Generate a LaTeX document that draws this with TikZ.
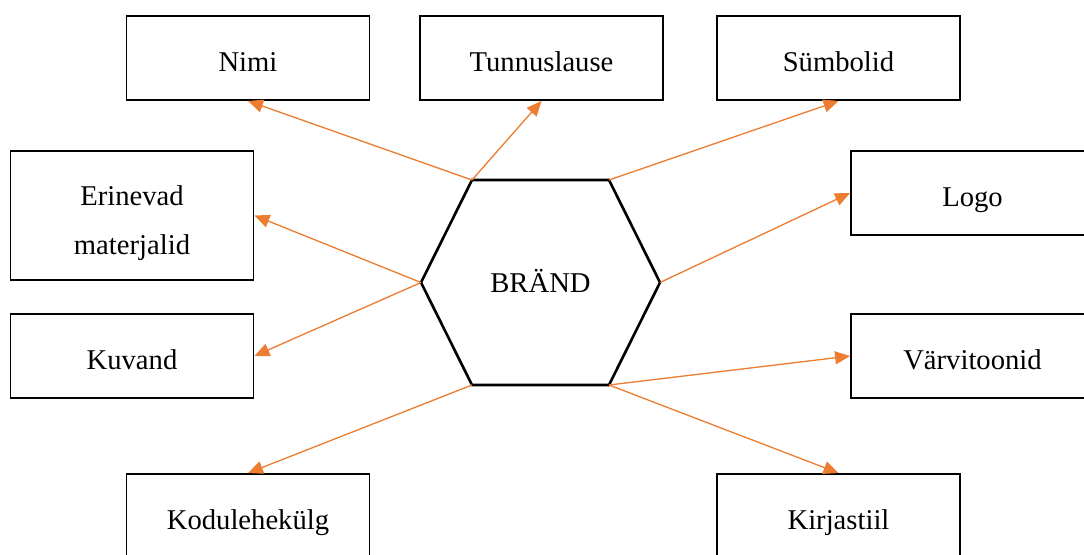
\documentclass[tikz,border=0pt]{standalone}
\usepackage{fontspec}
\setmainfont{Liberation Serif}
\usepackage{xcolor}
\usetikzlibrary{positioning}
\usetikzlibrary{arrows.meta}
\definecolor{brandorange}{RGB}{237,125,49}
\def\tekst{\fontsize{16.3pt}{27.9pt}\selectfont}
\tikzset{
kast/.style={draw, line width=1.1pt, minimum width=4.86cm, minimum height=1.68cm, align=center, inner sep=0pt, font=\tekst, text height=14.8pt, text depth=0pt},
kuusnurk/.style={draw, line width=1.5pt, line join=miter},
keskel/.style={inner sep=0pt, font=\tekst, text height=11.9pt, text depth=0pt},
nool/.style={draw=brandorange, line width=0.75pt, -{Triangle[length=0.3cm, width=0.26cm]}},
}
\begin{document}
\begin{tikzpicture}[x=0.02cm, y=-0.02cm]
	\clip (0,0) rectangle (1084,554);
	%
	\coordinate (h1) at (472,180);
	\coordinate (h2) at (609,180);
	\coordinate (h3) at (660,282.5);
	\coordinate (h4) at (609,385);
	\coordinate (h5) at (472,385);
	\coordinate (h6) at (421,282.5);
	\draw[kuusnurk] (h1) -- (h2) -- (h3) -- (h4) -- (h5) -- (h6) -- cycle;
	\node[keskel] (brand) at (540.5,282.5) {BRÄND};
	%
	\node[kast] (nimi) at (248,58) {Nimi};
	\node[kast] (tunnus) at (541.5,58) {Tunnuslause};
	\node[kast] (symbol) at (838.5,58) {Sümbolid};
	%
	\node[kast, minimum height=2.58cm, text height=44.8pt, text depth=0pt] (materjal) at (132,215.5) {Erinevad\\materjalid};
	\node[kast] (kuvand) at (132,356) {Kuvand};
	\node[kast] (logo) at (972.5,193) {Logo};
	\node[kast] (varv) at (972.5,356) {Värvitoonid};
	%
	\node[kast] (kodu) at (248,516) {Kodulehekülg};
	\node[kast] (kiri) at (838.5,516) {Kirjastiil};
	%
	\draw[nool] (h1) to (nimi.south);
	\draw[nool] (h1) to (tunnus.south);
	\draw[nool] (h2) to (symbol.south);
	%
	\draw[nool] (h6) to (materjal.east);
	\draw[nool] (h6) to (kuvand.east);
	\draw[nool] (h3) to (logo.west);
	%
	\draw[nool] (h4) to (varv.west);
	\draw[nool] (h4) to (kiri.north);
	\draw[nool] (h5) to (kodu.north);
\end{tikzpicture}
\end{document}
